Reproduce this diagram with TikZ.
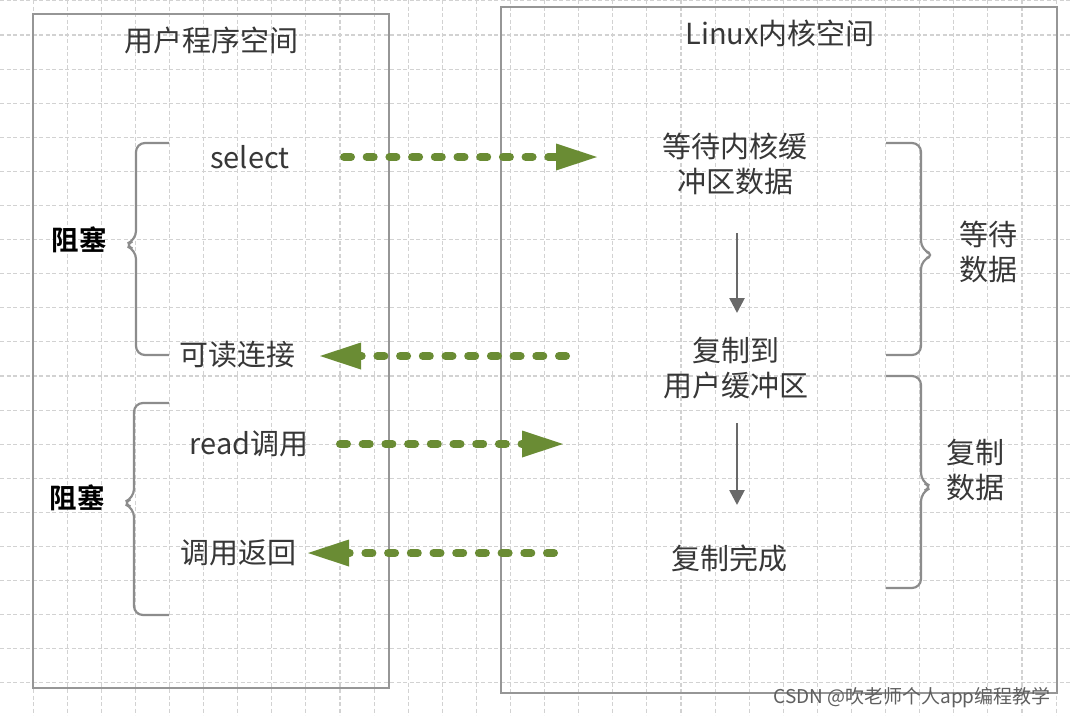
\documentclass[tikz,border=0pt]{standalone}
\usepackage{fontspec}
\setmainfont{Noto Sans CJK SC}[BoldFont={Noto Sans CJK SC Bold}]
\usetikzlibrary{arrows.meta,calc}
\definecolor{gridc}{RGB}{210,210,210}
\definecolor{boxc}{RGB}{150,150,150}
\definecolor{bracec}{RGB}{140,140,140}
\definecolor{txtc}{RGB}{55,55,55}
\definecolor{greenc}{RGB}{106,140,52}
\definecolor{darrowc}{RGB}{105,105,105}
\definecolor{wmc}{RGB}{95,95,95}
\tikzset{
  gridline/.style={draw=gridc, line width=1.1pt, dash pattern=on 4pt off 2.5pt},
  boxline/.style={draw=boxc, line width=2.4pt},
  braceline/.style={draw=bracec, line width=2.2pt, rounded corners=9pt},
  lbl/.style={inner sep=0pt, text=txtc, align=center, font=\fontsize{29}{35}\selectfont},
  blk/.style={inner sep=0pt, text=black, font=\fontsize{27.5}{33}\selectfont\bfseries},
  garrow/.style={draw=greenc, line width=8pt, line cap=round, dash pattern=on 7pt off 15.7pt,
     -{Triangle[length=41pt,width=27pt,fill=greenc,line width=0pt]}},
  darrow/.style={draw=darrowc, line width=2.6pt, -{Triangle[length=15pt,width=15pt,fill=darrowc]}},
  wm/.style={inner sep=0pt, text=wmc, font=\fontsize{19}{22}\selectfont}
}
\begin{document}
\begin{tikzpicture}[x=1pt,y=-1pt]
\useasboundingbox (0,0) rectangle (1070,715);
\fill[white] (0,0) rectangle (1070,715);
% grid
\foreach \k in {1,...,31} \draw[gridline] ({-1+34.1*\k},0) -- ({-1+34.1*\k},715);
\foreach \k in {0,...,20} \draw[gridline] (0,{0.9+34.1*\k}) -- (1070,{0.9+34.1*\k});
% containers
\draw[boxline] (33,14) rectangle (389,688);
\draw[boxline] (501,7) rectangle (1057,693);
% titles
\node[lbl] (utitle) at (211,40) {用户程序空间};
\node[lbl] (ktitle) at (780,33) {Linux内核空间};
% user side labels
\node[lbl] (sel) at (250,157) {select};
\node[lbl] (rdbl) at (237,355) {可读连接};
\node[lbl] (rd) at (249,444) {read调用};
\node[lbl] (ret) at (238,553) {调用返回};
\node[blk] (blk1) at (79,240) {阻塞};
\node[blk] (blk2) at (77,498) {阻塞};
% kernel side labels
\node[lbl] (wait) at (735,164) {等待内核缓\\冲区数据};
\node[lbl] (copy) at (736,368) {复制到\\用户缓冲区};
\node[lbl] (done) at (729,558) {复制完成};
\node[lbl] (waitd) at (988,252) {等待\\数据};
\node[lbl] (copyd) at (975,470) {复制\\数据};
% braces
\draw[braceline] (169,143) -- (136,143) -- (136,240) -- (124,245) -- (136,250) -- (136,355) -- (169,355);
\draw[braceline] (169,403) -- (134,403) -- (134,498) -- (122,503) -- (134,508) -- (134,615) -- (169,615);
\draw[braceline] (886,143) -- (921,143) -- (921,250) -- (935,255) -- (921,260) -- (921,355) -- (886,355);
\draw[braceline] (886,376) -- (921,376) -- (921,482) -- (933,487) -- (921,492) -- (921,588) -- (886,588);
% green dashed arrows
\draw[garrow] ($(sel.center)+(94,0)$) -- ($(wait.center |- sel.center)+(-138,0)$);
\draw[garrow] ($(copy.center |- rdbl.center)+(-170,1)$) -- ($(rdbl.center)+(83,1)$);
\draw[garrow] ($(rd.center)+(91,0)$) -- ($(copy.center |- rd.center)+(-173,0)$);
\draw[garrow] ($(done.center |- ret.center)+(-175,0)$) -- ($(ret.center)+(70,0)$);
% grey arrows
\draw[darrow] ($(wait.center)+(2,69)$) -- ($(copy.center)+(1,-55)$);
\draw[darrow] ($(copy.center)+(1,55)$) -- ($(copy.center |- done.center)+(1,-53)$);
% watermark
\node[wm] (mark) at (912,698) {CSDN @吹老师个人app编程教学};
\end{tikzpicture}
\end{document}
